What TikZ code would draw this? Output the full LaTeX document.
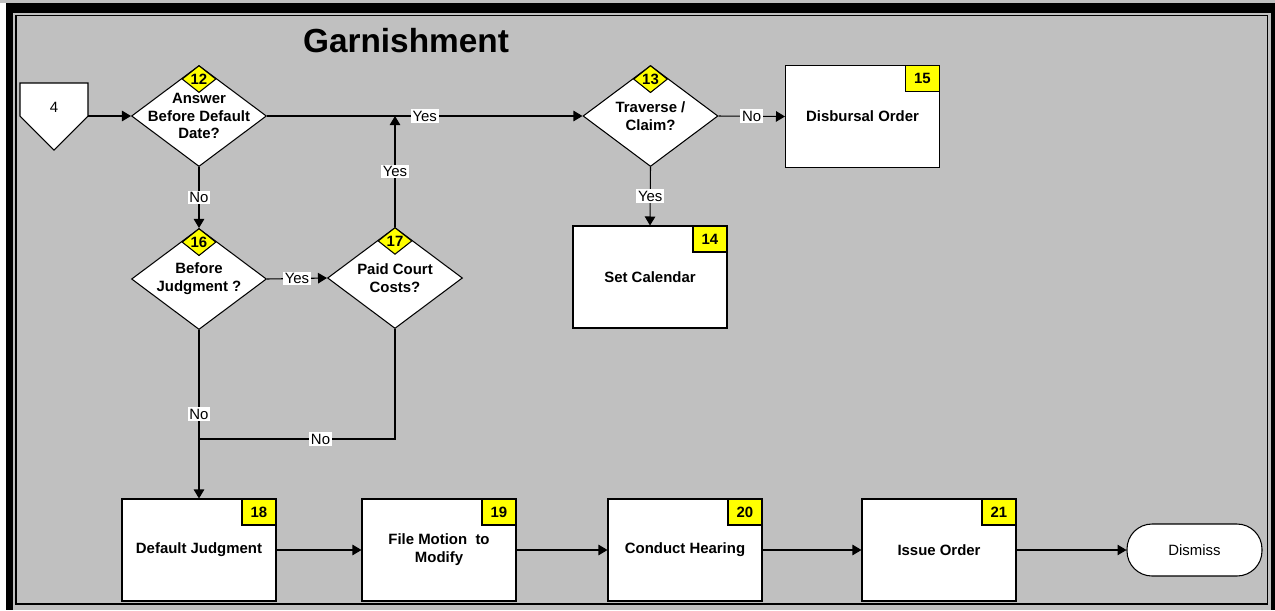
\documentclass[tikz,border=0pt]{standalone}
\usepackage{fontspec}
\setmainfont{Liberation Sans}
\usepackage{tikz}
\usetikzlibrary{shapes.geometric}
\usetikzlibrary{arrows.meta}

\definecolor{panel}{HTML}{C0C0C0}
\definecolor{tagyellow}{HTML}{FFFF00}
\newcommand{\flowfont}{\fontsize{8.5}{10.2}\selectfont}

\begin{document}
\begin{tikzpicture}[x=0.02cm,y=-0.02cm,>={Triangle[length=0.18cm,width=0.21cm]},
	line width=0.6pt,
	decision/.style={diamond,draw,fill=white,minimum width=2.7cm,minimum height=2.02cm,inner sep=0pt},
	dtext/.style={align=center,font=\flowfont\bfseries},
	task/.style={rectangle,draw,fill=white,minimum width=3.08cm,minimum height=2.04cm,align=center,font=\flowfont\bfseries},
	terminal/.style={rectangle,rounded corners=0.5cm,draw,fill=white,minimum width=2.7cm,minimum height=1.04cm,font=\flowfont},
	dtag/.style={diamond,draw,fill=tagyellow,minimum width=0.68cm,minimum height=0.5cm,inner sep=0pt,font=\flowfont\bfseries},
	btag/.style={rectangle,draw,fill=tagyellow,minimum width=0.68cm,minimum height=0.52cm,inner sep=0pt,font=\flowfont\bfseries},
	lbl/.style={fill=white,inner sep=1pt,font=\flowfont}]

	\useasboundingbox (0,0) rectangle (1275,610);
	% frame
	\fill[white] (0,0) rectangle (1275,610);
	\fill[panel] (0,0) rectangle (1275,3);
	\fill[black] (6,3) rectangle (1275,610);
	\fill[panel] (13,12.5) rectangle (1270.5,610);
	\draw[line width=1.1pt] (16,15.5) rectangle (1267.5,604);

	\node[font=\fontsize{19}{22}\selectfont\bfseries,anchor=base] (title) at (406,52) {Garnishment};

	% off-page connector
	\draw[fill=white] (20,83) -- (88,83) -- (88,116) -- (54,150) -- (20,116) -- cycle;
	\node[font=\flowfont] (p4) at (54,107) {4};
	\coordinate (p4out) at (88,116);

	% decisions
	\node[decision,label={[dtext]center:Answer\\Before Default\\Date?}] (d12) at (199,116) {};
	\node[decision,label={[dtext]center:Traverse /\\Claim?}] (d13) at (650.5,116) {};
	\node[decision,label={[dtext]center:Before\\Judgment ?}] (d16) at (199,279) {};
	\node[decision,label={[dtext]center:Paid Court\\Costs?}] (d17) at (395,278) {};
	\node[dtag,anchor=north] (g12) at (d12.north) {12};
	\node[dtag,anchor=north] (g13) at (d13.north) {13};
	\node[dtag,anchor=north] (g16) at (d16.north) {16};
	\node[dtag,anchor=north] (g17) at (d17.north) {17};

	% tasks
	\node[task] (t15) at (862.5,116.5) {Disbursal Order};
	\node[task] (t14) at (650,277) {Set Calendar};
	\node[task] (t18) at (199,550) {Default Judgment};
	\node[task] (t19) at (439,550) {File Motion\ \ to\\Modify};
	\node[task] (t20) at (685,550) {Conduct Hearing};
	\node[task] (t21) at (939,550) {Issue Order};
	\node[terminal] (dismiss) at (1194.5,550) {Dismiss};
	\node[btag,anchor=north east] (g15) at (t15.north east) {15};
	\node[btag,anchor=north east] (g14) at (t14.north east) {14};
	\node[btag,anchor=north east] (g18) at (t18.north east) {18};
	\node[btag,anchor=north east] (g19) at (t19.north east) {19};
	\node[btag,anchor=north east] (g20) at (t20.north east) {20};
	\node[btag,anchor=north east] (g21) at (t21.north east) {21};

	\coordinate (mrg) at (199,439);

	% connectors
	\draw[->] (p4out) -- (d12.west);
	\draw[->] (d12.east) -- node[lbl] {Yes} (d13.west);
	\draw[->] (d13.east) -- node[lbl] {No} (t15.west);
	\draw[->] (d13.south) -- node[lbl] {Yes} (t14.north);
	\draw[->] (d12.south) -- node[lbl] {No} (d16.north);
	\draw[->] (d16.east) -- node[lbl] {Yes} (d17.west);
	\draw[->] (d17.north) -- node[lbl] {Yes} (d17.north |- d12.east);
	\draw[->] (d16.south) -- node[lbl] {No} (t18.north);
	\draw (d17.south) |- node[lbl,pos=0.69] {No} (mrg);
	\draw[->] (t18) -- (t19);
	\draw[->] (t19) -- (t20);
	\draw[->] (t20) -- (t21);
	\draw[->] (t21) -- (dismiss);
\end{tikzpicture}
\end{document}
